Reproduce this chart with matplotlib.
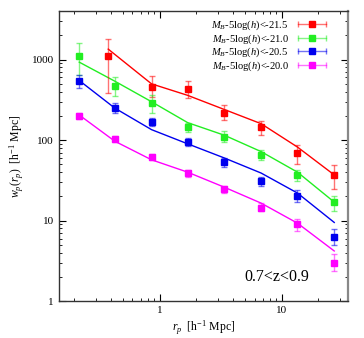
import numpy as np
import matplotlib
matplotlib.use('Agg')
import matplotlib.pyplot as plt
from matplotlib.lines import Line2D
from matplotlib.legend_handler import HandlerLine2D

plt.rcParams['font.family'] = ['Liberation Serif', 'DejaVu Serif']
plt.rcParams['mathtext.fontset'] = 'custom'
plt.rcParams['mathtext.rm'] = 'Liberation Serif'
plt.rcParams['mathtext.it'] = 'Liberation Serif:italic'

# projected separations
rp = [0.22, 0.43, 0.86, 1.7, 3.4, 6.8, 13.5, 27.0]
rp_red = [0.38, 0.86, 1.7, 3.4, 6.8, 13.5, 27.0]

labels = [r'$M_B$-5log($h$)<-21.5', r'$M_B$-5log($h$)<-21.0',
          r'$M_B$-5log($h$)<-20.5', r'$M_B$-5log($h$)<-20.0']
colors = ['#ff0000', '#22ee22', '#0000ee', '#ff00ff']

# measured wp and errors (lower, upper)
wp_red = [1100, 455, 430, 220, 145, 70, 37]
lo_red = [380, 340, 330, 180, 115, 50, 25]
hi_red = [1800, 620, 540, 270, 175, 88, 49]
wp_green = [1100, 470, 290, 145, 110, 66, 37, 17]
lo_green = [650, 350, 220, 125, 95, 57, 31, 13]
hi_green = [1600, 600, 360, 165, 130, 75, 43, 20]
wp_blue = [550, 250, 170, 94, 53, 31, 20, 6.3]
lo_blue = [440, 220, 150, 85, 47, 27, 17, 5.0]
hi_blue = [650, 290, 190, 105, 60, 35, 24, 7.8]
wp_mag = [200, 103, 62, 39, 24.5, 14.5, 9.0, 3.0]
lo_mag = [185, 95, 56, 35, 22, 13, 7.5, 2.4]
hi_mag = [215, 112, 68, 43, 27, 16.5, 10.5, 3.8]

# model curves
mod_red = [1350, 500, 360, 240, 160, 82, 37]
mod_green = [930, 540, 300, 165, 115, 72, 40, 17]
mod_blue = [550, 250, 135, 90, 60, 39, 22, 9.5]
mod_mag = [205, 97, 57, 40, 26, 16.5, 9.3, 4.2]

fig = plt.figure(figsize=(3.64, 3.38), dpi=100)
ax = fig.add_axes([0.162, 0.109, 0.794, 0.858])

series = [
    (rp_red, wp_red, lo_red, hi_red, mod_red),
    (rp, wp_green, lo_green, hi_green, mod_green),
    (rp, wp_blue, lo_blue, hi_blue, mod_blue),
    (rp, wp_mag, lo_mag, hi_mag, mod_mag),
]

handles = []
hmap = {}
for (x, y, lo, hi, mod), c, lab in zip(series, colors, labels):
    y = np.array(y)
    yerr = [y - np.array(lo), np.array(hi) - y]
    ax.plot(x, mod, color=c, lw=1.0, zorder=2)
    ax.errorbar(x, y, yerr=yerr, fmt='none', ecolor=c, alpha=0.55,
                elinewidth=1.0, capsize=2.5, capthick=1.0, zorder=3)
    ax.plot(x, y, 's', color=c, ms=4.5, mec=c, zorder=4)
    bar = Line2D([], [], color=c, alpha=0.55, lw=1.0, marker='|', ms=5, mew=1.0)
    sq = Line2D([], [], color=c, lw=0, marker='s', ms=4.5)
    hmap[bar] = HandlerLine2D(numpoints=2)
    hmap[sq] = HandlerLine2D(numpoints=1)
    handles.append((bar, sq))

leg = ax.legend(handles, labels, handler_map=hmap, loc='upper right',
                bbox_to_anchor=(0.96, 1.0), frameon=False, markerfirst=False,
                fontsize=7.6, handlelength=3.2, handletextpad=0.6,
                labelspacing=0.0, borderaxespad=0.3)

ax.set_xscale('log')
ax.set_yscale('log')
ax.set_xlim(0.15, 35)
ax.set_ylim(1, 4000)
ax.set_xticks([1, 10])
ax.set_xticklabels(['1', '10'])
ax.set_yticks([1, 10, 100, 1000])
ax.set_yticklabels(['1', '10', '100', '1000'])
ax.tick_params(which='both', direction='in', top=True, right=True, labelsize=8)
ax.tick_params(which='major', length=5, width=0.8)
ax.tick_params(which='minor', length=2.5, width=0.6)

for s in ['left', 'top', 'bottom']:
    ax.spines[s].set_color('#333333')
    ax.spines[s].set_linewidth(1.0)
ax.spines['right'].set_color('#888888')
ax.spines['right'].set_linewidth(1.6)

ax.set_xlabel(r'$r_p$  [h$^{-1}$ Mpc]', fontsize=8.5, labelpad=3)
ax.set_ylabel(r'$w_p(r_p)$  [h$^{-1}$ Mpc]', fontsize=8.5, labelpad=4)

ax.text(0.755, 0.085, '0.7<z<0.9', transform=ax.transAxes, ha='center',
        va='center', fontsize=11.5)

fig.savefig('out.png', dpi=100)
